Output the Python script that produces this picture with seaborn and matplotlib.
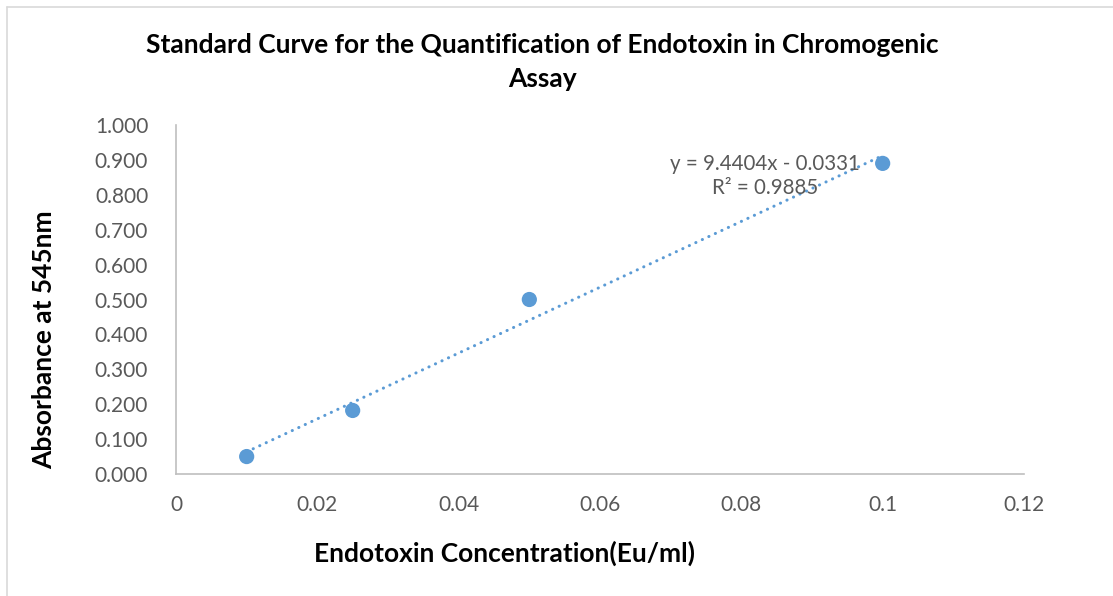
import matplotlib
matplotlib.use("Agg")
import matplotlib.pyplot as plt
import seaborn as sns
import pandas as pd
from matplotlib.lines import Line2D

concentration = [0.01, 0.025, 0.05, 0.1]
absorbance = [0.050, 0.182, 0.500, 0.890]
x_ticks = [0, 0.02, 0.04, 0.06, 0.08, 0.1, 0.12]
x_tick_labels = ["0", "0.02", "0.04", "0.06", "0.08", "0.1", "0.12"]
y_ticks = [0.0, 0.1, 0.2, 0.3, 0.4, 0.5, 0.6, 0.7, 0.8, 0.9, 1.0]
title = "Standard Curve for the Quantification of Endotoxin in Chromogenic\nAssay"
x_label = "Endotoxin Concentration(Eu/ml)"
y_label = "Absorbance at 545nm"
equation = "y = 9.4404x - 0.0331\nR² = 0.9885"

df = pd.DataFrame({"x": concentration, "y": absorbance})

sns.set_theme(style="white")
plt.rcParams["font.family"] = ["Lato", "DejaVu Sans"]

W, H = 1113, 596
fig = plt.figure(figsize=(W / 100, H / 100), dpi=100)
ax = fig.add_axes([176 / W, 1 - 474 / H, (1024 - 176) / W, (474 - 125) / H])

color = "#5B9BD5"
sns.regplot(data=df, x="x", y="y", ax=ax, ci=None, color=color,
            scatter_kws={"s": 120, "edgecolor": "none", "alpha": 1, "zorder": 3},
            line_kws={"linestyle": (0, (0.05, 2.3)), "linewidth": 2.2,
                      "dash_capstyle": "round"})

ax.set_xlim(0, 0.12)
ax.set_ylim(0, 1.0)
ax.set_xticks(x_ticks)
ax.set_xticklabels(x_tick_labels)
ax.set_yticks(y_ticks)
ax.set_yticklabels([f"{v:.3f}" for v in y_ticks])
ax.tick_params(axis="both", length=0, labelsize=15, labelcolor="#595959")
ax.tick_params(axis="x", pad=15)
ax.tick_params(axis="y", pad=20)
ax.set_xlabel("")
ax.set_ylabel("")
for s in ["top", "right"]:
    ax.spines[s].set_visible(False)
for s in ["left", "bottom"]:
    ax.spines[s].set_color("#BFBFBF")
    ax.spines[s].set_linewidth(1.2)

ax.text(0.0833, 0.854, equation, ha="center", va="center", fontsize=14.8,
        color="#595959", linespacing=1.3, zorder=4)

fig.text(542 / W, 1 - 62 / H, title, ha="center", va="center", fontsize=19,
         fontweight="bold", color="black", linespacing=1.5)
fig.text(504 / W, 1 - 553 / H, x_label, ha="center", va="center", fontsize=19,
         fontweight="bold", color="black")
fig.text(44 / W, 1 - 340 / H, y_label, ha="center", va="center", fontsize=19,
         fontweight="bold", color="black", rotation=90)

# chart border (light gray) at top and left
fig.add_artist(Line2D([7 / W, 1], [1 - 7 / H, 1 - 7 / H], color="#D9D9D9", lw=1.2))
fig.add_artist(Line2D([7 / W, 7 / W], [0, 1 - 7 / H], color="#D9D9D9", lw=1.2))

fig.savefig("out.png", dpi=100, facecolor="white")
